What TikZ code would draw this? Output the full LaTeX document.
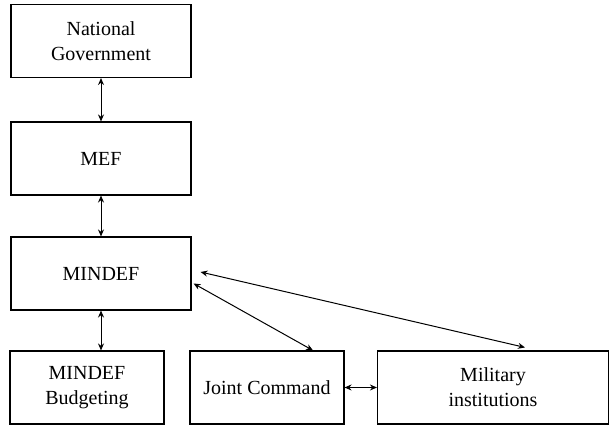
\documentclass[tikz,border=0pt]{standalone}
\usepackage{fontspec}
\setmainfont{Liberation Serif}
\usetikzlibrary{arrows.meta}

\begin{document}
\begin{tikzpicture}[x=1pt,y=1pt,
    orgbox/.style={draw,line width=1.1pt,minimum height=73pt,align=center,font=\fontsize{20}{25}\selectfont},
    link/.style={<->,line width=1pt,>={Stealth[length=7pt,width=6pt]}}]
    \useasboundingbox (0,0) rectangle (611,427);

    \node[orgbox,minimum width=180pt] (natgov) at (101,386) {National\\Government};
    \node[orgbox,minimum width=180pt] (mef) at (101,268.5) {MEF};
    \node[orgbox,minimum width=180pt] (mindef) at (101,153.5) {MINDEF};
    \node[orgbox,minimum width=154pt] (budget) at (87,39.5) {MINDEF\\Budgeting};
    \node[orgbox,minimum width=154pt] (joint) at (267,39.5) {Joint Command};
    \node[orgbox,minimum width=231pt] (milinst) at (493,39.5) {Military\\institutions};

    \draw[link] (natgov.south) -- (mef.north);
    \draw[link] (mef.south) -- (mindef.north);
    \draw[link] (mindef.south) -- (mindef.south |- budget.north);
    \draw[link] (joint.east) -- (milinst.west);
    \draw[link] ([xshift=2pt,yshift=-10pt]mindef.east) -- ([xshift=46pt]joint.north);
    \draw[link] ([xshift=9pt,yshift=1.5pt]mindef.east) -- ([xshift=32pt,yshift=3pt]milinst.north);

\end{tikzpicture}
\end{document}
